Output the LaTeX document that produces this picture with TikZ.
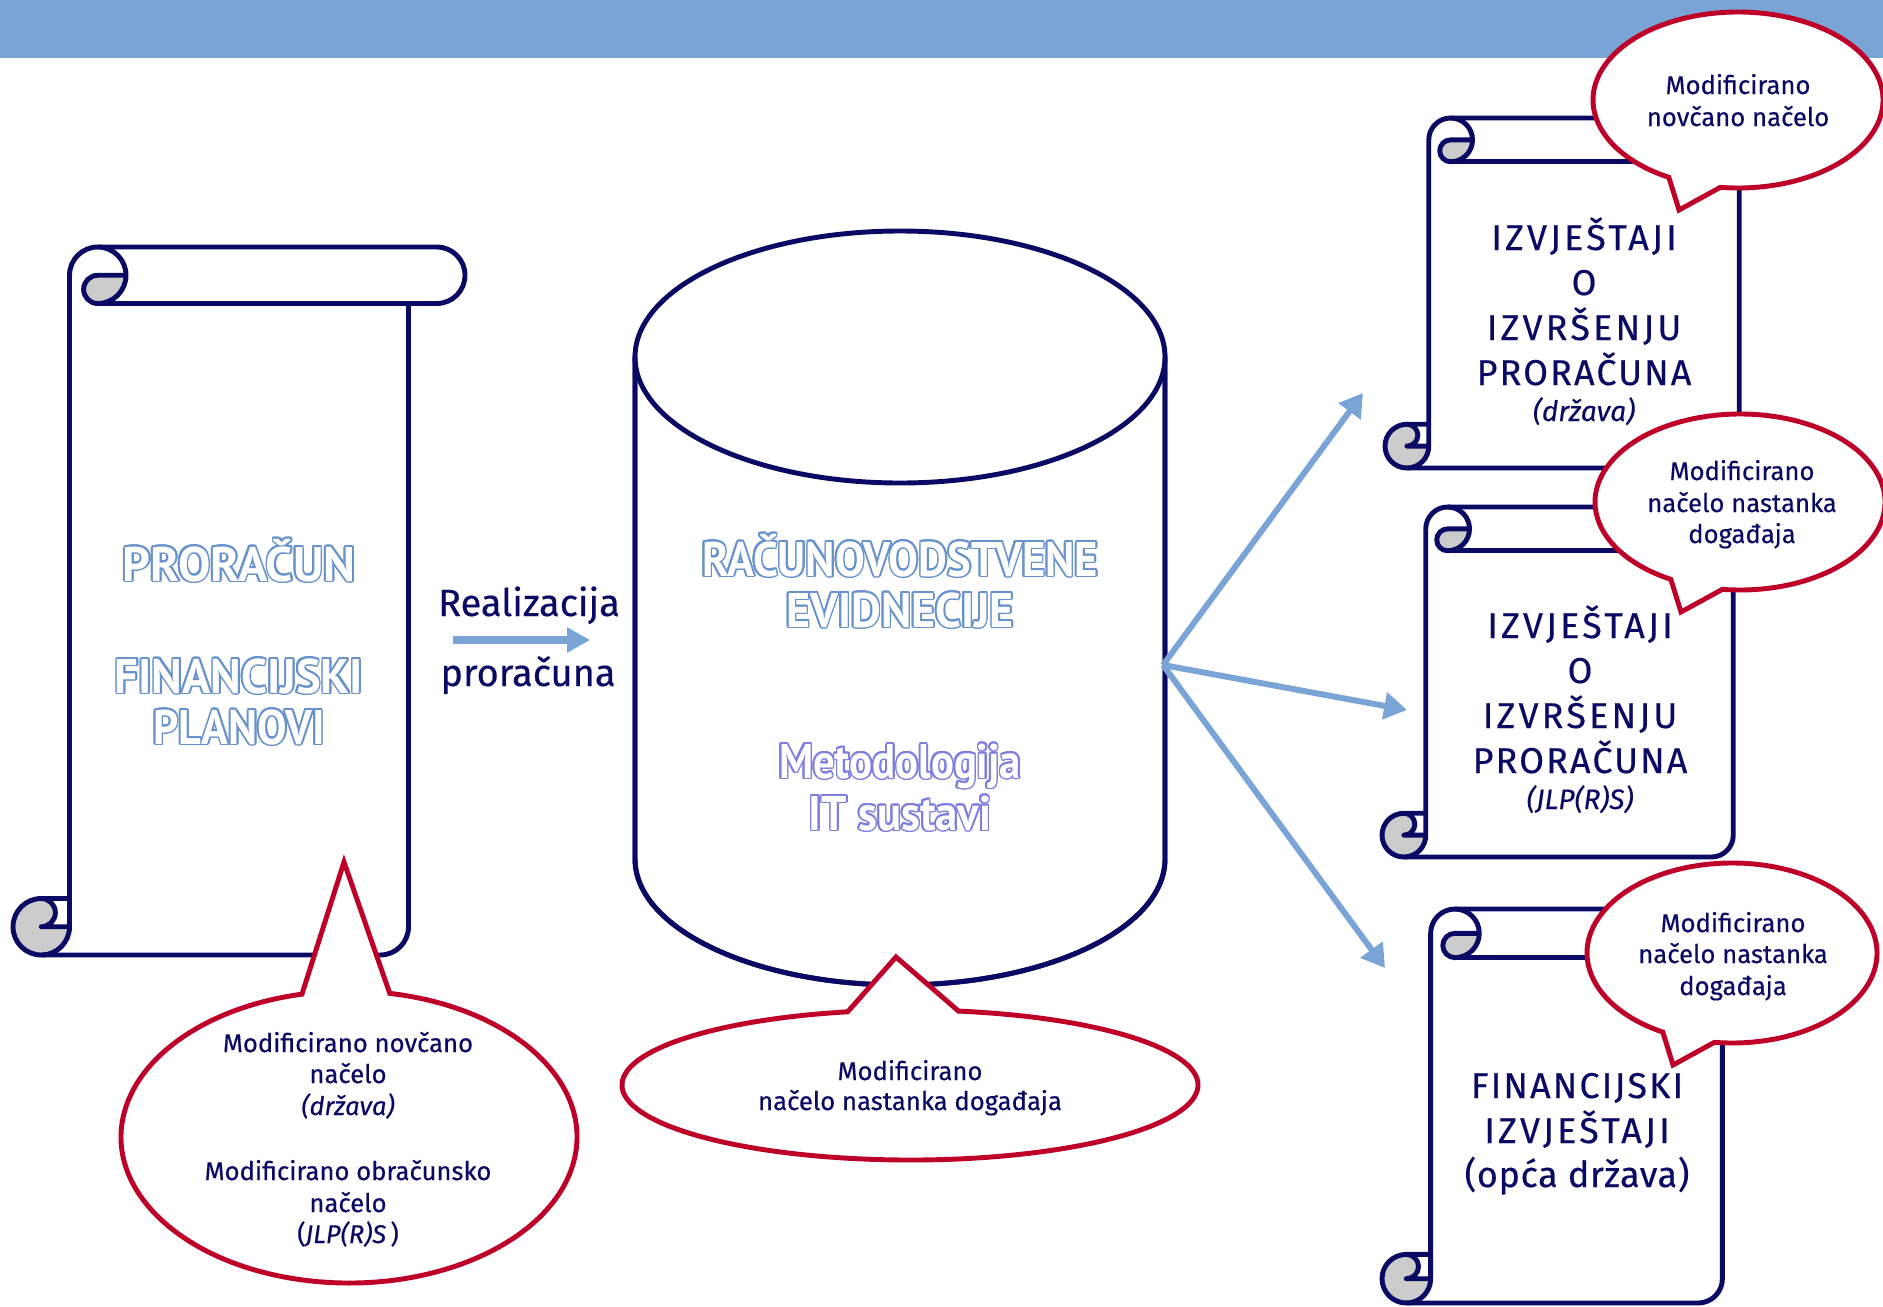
\documentclass[tikz,border=0pt]{standalone}
\usepackage{fontspec}
\setmainfont{Fira Sans}[FakeBold=0.4]
\newfontfamily\ofont{PT Sans}
\usetikzlibrary{arrows.meta,calc}
\definecolor{navy}{HTML}{0A0A64}
\definecolor{cred}{HTML}{BE0029}
\definecolor{lblue}{HTML}{7BA4D6}
\definecolor{oblue}{HTML}{6792CC}
\definecolor{opurp}{HTML}{7E7EE0}
\definecolor{curlgray}{HTML}{CCCCCC}

\tikzset{
  scrollline/.style={draw=navy, line width=1.4pt, line join=round},
  cylline/.style={draw=navy, line width=1.4pt, fill=white},
  callout/.style={draw=cred, fill=white, line width=1.4pt, line join=miter},
  flow/.style={draw=lblue, line width=1.7pt, -{Triangle[length=6.5pt,width=7.5pt]}},
  rtext/.style={text=navy, font=\fontsize{10.8}{12}\selectfont, anchor=base, inner sep=0pt},
  reporttext/.style={text=navy, font=\fontsize{10.2}{12.8}\selectfont\addfontfeatures{LetterSpace=6}, anchor=base, inner sep=0pt},
  widetext/.style={text=navy, font=\fontsize{10.2}{12.8}\selectfont\addfontfeatures{LetterSpace=9}, anchor=base, inner sep=0pt},
  plaintext/.style={text=navy, font=\fontsize{10.2}{12.8}\selectfont\addfontfeatures{LetterSpace=2}, anchor=base, inner sep=0pt},
  reportsub/.style={text=navy, font=\fontsize{8}{10}\selectfont\itshape, anchor=base, inner sep=0pt},
  ctext/.style={text=navy, font=\fontsize{7.3}{9.1}\selectfont, anchor=base, inner sep=0pt},
  otext/.style={font=\ofont\fontsize{13.8}{16}\selectfont\bfseries, anchor=base, inner sep=0pt},
}

% outlined text: stroke colour, outline radius, text
\newcommand\olt[3]{%
  \foreach \oa in {0,22.5,...,337.5}{%
    \pgfmathsetlengthmacro\odx{#2*cos(\oa)}%
    \pgfmathsetlengthmacro\ody{#2*sin(\oa)}%
    \rlap{\kern\odx\raise\ody\hbox{\color{#1}#3}}%
  }%
  \hbox{\color{white}#3}}

% vertical scroll: left, top, right, bottom (pixel coordinates, y down)
\newcommand\vscroll[4]{%
  \pgfmathsetmacro\sCh{min(#3-#1,#4-#2)/8}%
  \pgfmathsetmacro\sHh{\sCh/2}%
  \pgfmathsetmacro\sQq{\sCh/4}%
  \pgfmathsetmacro\sxa{#1+\sCh}%
  \pgfmathsetmacro\sxb{#1+\sCh/2}%
  \pgfmathsetmacro\sxc{#1+1.5*\sCh}%
  \pgfmathsetmacro\sxd{#1+2*\sCh}%
  \pgfmathsetmacro\sxe{#3-\sCh}%
  \pgfmathsetmacro\sxf{#3-\sCh/2}%
  \pgfmathsetmacro\sya{#2+\sCh/2}%
  \pgfmathsetmacro\syb{#2+\sCh}%
  \pgfmathsetmacro\syc{#4-\sCh}%
  \pgfmathsetmacro\syd{#4-\sCh/2}%
  \fill[white] (\sxa,\syc) -- (\sxa,\sya) arc[start angle=180,end angle=270,radius=\sHh]
    -- (\sxf,#2) arc[start angle=270,end angle=450,radius=\sHh]
    -- (\sxe,\syb) -- (\sxe,\syd) arc[start angle=0,end angle=90,radius=\sHh]
    -- (\sxb,#4) arc[start angle=90,end angle=270,radius=\sHh] -- cycle;
  \fill[curlgray] (\sxb,\syd) circle[radius=\sHh];
  \fill[white] (\sxb,\syc) -- (\sxa,\syc) -- (\sxa,\syd) -- (\sxb,\syd)
    arc[start angle=90,end angle=-90,radius=\sQq] -- cycle;
  \fill[curlgray] (\sxd,\sya) arc[start angle=0,end angle=90,radius=\sHh]
    arc[start angle=90,end angle=270,radius=\sQq] -- cycle;
  \draw[scrollline] (\sxa,\syc) -- (\sxa,\sya) arc[start angle=180,end angle=270,radius=\sHh]
    -- (\sxf,#2) arc[start angle=270,end angle=450,radius=\sHh]
    -- (\sxe,\syb) -- (\sxe,\syd) arc[start angle=0,end angle=90,radius=\sHh]
    -- (\sxb,#4) arc[start angle=90,end angle=270,radius=\sHh] -- cycle;
  \draw[scrollline] (\sxc,#2) arc[start angle=270,end angle=450,radius=\sHh]
    arc[start angle=90,end angle=270,radius=\sQq] -- (\sxd,\sya);
  \draw[scrollline] (\sxe,\syb) -- (\sxc,\syb);
  \draw[scrollline] (\sxb,\syc) arc[start angle=270,end angle=450,radius=\sQq] -- (\sxa,\syd);
  \draw[scrollline] (\sxb,#4) arc[start angle=90,end angle=0,radius=\sHh] -- (\sxa,\syc);
}

% callout: cx, cy, rx, ry, start angle, end angle, tip x, tip y
\newcommand\callout[8]{%
  \filldraw[callout] ($(#1,#2)+(#5:#3 and #4)$)
    arc[start angle=#5,end angle=#6,x radius=#3,y radius=#4] -- (#7,#8) -- cycle;
}

\begin{document}
\begin{tikzpicture}[x=0.01cm,y=-0.01cm]
\useasboundingbox (0,0) rectangle (1883,1306);
\clip (0,0) rectangle (1883,1306);

% top band
\fill[lblue] (0,0) rectangle (1883,58);

% left scroll
\vscroll{13}{247}{465}{955}
\node[otext] (pl1) at (239,581) {\olt{oblue}{0.5pt}{PRORAČUN}};
\node[otext] (pl2) at (239,693) {\scalebox{0.96}[1]{\olt{oblue}{0.5pt}{FINANCIJSKI}}};
\node[otext] (pl3) at (239,744) {\scalebox{0.91}[1]{\olt{oblue}{0.5pt}{PLANOVI}}};

% realizacija arrow
\coordinate (ra) at (453,640);
\coordinate (rb) at (590,640);
\draw[draw=lblue, line width=2.3pt, -{Triangle[length=6.5pt,width=6.8pt]}] (ra) -- (rb);
\node[rtext] (re1) at (529,616) {Realizacija};
\node[rtext] (re2) at (528,686) {proračuna};

% cylinder
\path[cylline] (635,357) -- (635,859) arc[start angle=180,end angle=0,x radius=265,y radius=126] -- (1165,357) -- cycle;
\draw[cylline] (900,357) ellipse[x radius=265,y radius=126];
\draw[navy, line width=1.4pt] (635,357) -- (635,859) arc[start angle=180,end angle=0,x radius=265,y radius=126] -- (1165,357);
\node[otext] (cy1) at (900,576) {\scalebox{0.92}[1]{\olt{oblue}{0.5pt}{RAČUNOVODSTVENE}}};
\node[otext] (cy2) at (900,627) {\scalebox{0.95}[1]{\olt{oblue}{0.5pt}{EVIDNECIJE}}};
\node[otext] (cy3) at (900,778) {\scalebox{0.88}[1]{\olt{opurp}{0.5pt}{Metodologija}}};
\node[otext] (cy4) at (900,830) {\scalebox{0.92}[1]{\olt{opurp}{0.5pt}{IT sustavi}}};

% arrows to reports
\coordinate (cylR) at (1163,665);
\coordinate (tA) at (1363,393);
\coordinate (tB) at (1407,710);
\coordinate (tC) at (1385,968);
\draw[flow] (cylR) -- (tA);
\draw[flow] (cylR) -- (tB);
\draw[flow] (cylR) -- (tC);

% right scrolls
\vscroll{1385}{118}{1783}{468}
\node[widetext] (a1) at (1584,250) {IZVJEŠTAJI};
\node[reporttext] (a2) at (1584,295) {O};
\node[widetext] (a3) at (1584,340) {IZVRŠENJU};
\node[reporttext] (a4) at (1584,385) {PRORAČUNA};
\node[reportsub] (a5) at (1584,421) {(država)};

\vscroll{1382}{507}{1777}{857}
\node[widetext] (b1) at (1580,638) {IZVJEŠTAJI};
\node[reporttext] (b2) at (1580,683) {O};
\node[widetext] (b3) at (1580,728) {IZVRŠENJU};
\node[reporttext] (b4) at (1580,773) {PRORAČUNA};
\node[reportsub] (b5) at (1580,809) {(JLP(R)S)};

\vscroll{1382}{909}{1771}{1303}
\node[reporttext] (c1) at (1577,1098) {FINANCIJSKI};
\node[widetext] (c2) at (1577,1143) {IZVJEŠTAJI};
\node[plaintext] (c3) at (1577,1187) {(opća država)};

% callouts
\callout{349}{1137}{228}{146}{280.3}{618.1}{344}{862}
\node[ctext] (l1) at (348,1052) {Modificirano novčano};
\node[ctext] (l2) at (348,1083) {načelo};
\node[ctext, font=\fontsize{7.3}{9.1}\selectfont\itshape] (l3) at (348,1115) {(država)};
\node[ctext] (l4) at (348,1180) {Modificirano obračunsko};
\node[ctext] (l5) at (348,1212) {načelo};
\node[ctext] (l6) at (348,1243) {(\textit{JLP(R)S}\,)};

\callout{910}{1085}{288}{75}{-80.3}{257.5}{896}{957}
\node[ctext] (m1) at (910,1080) {Modificirano};
\node[ctext] (m2) at (910,1110) {načelo nastanka događaja};

\callout{1738}{100}{145}{88}{118.5}{457}{1679}{210}
\node[ctext] (ca1) at (1738,94) {Modificirano};
\node[ctext] (ca2) at (1738,126) {novčano načelo};

\callout{1740}{502}{145}{88}{118.5}{457}{1681}{612}
\node[ctext] (cb1) at (1742,480) {Modificirano};
\node[ctext] (cb2) at (1742,512) {načelo nastanka};
\node[ctext] (cb3) at (1742,543) {događaja};

\callout{1732}{953}{145}{90}{118.5}{457}{1673}{1065}
\node[ctext] (cc1) at (1733,932) {Modificirano};
\node[ctext] (cc2) at (1733,963) {načelo nastanka};
\node[ctext] (cc3) at (1733,995) {događaja};
\end{tikzpicture}
\end{document}
